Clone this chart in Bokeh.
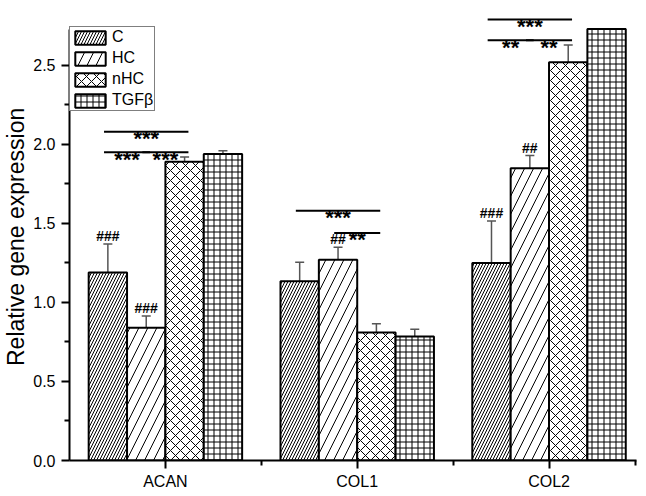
from bokeh.plotting import figure
from bokeh.models import (ColumnDataSource, Whisker, TeeHead, FixedTicker, Legend,
                          LegendItem, Range1d)
from bokeh.core.properties import value
from bokeh.embed import file_html
from bokeh.resources import INLINE

# ---------------- data ----------------
genes = ["ACAN", "COL1", "COL2"]
groups = ["C", "HC", "nHC", "TGFβ"]
mean_C = [1.19, 1.135, 1.25]
mean_HC = [0.84, 1.27, 1.85]
mean_nHC = [1.89, 0.81, 2.52]
mean_TGF = [1.94, 0.785, 2.73]
err_C = [0.18, 0.12, 0.265]
err_HC = [0.075, 0.08, 0.08]
err_nHC = [0.03, 0.055, 0.11]
err_TGF = [0.02, 0.045, 0.0]

# "#" marks (vs TGFβ)
hash_gene = ["ACAN", "ACAN", "COL1", "COL2", "COL2"]
hash_group = ["C", "HC", "HC", "C", "HC"]
hash_text = ["###", "###", "##", "###", "##"]

# significance brackets
br_gene = ["ACAN", "ACAN", "ACAN", "COL1", "COL1", "COL2", "COL2", "COL2"]
br_from = ["C", "C", "HC", "C", "HC", "C", "C", "HC"]
br_to = ["nHC", "HC", "nHC", "nHC", "nHC", "nHC", "HC", "nHC"]
br_level = [2.08, 1.95, 1.95, 1.58, 1.44, 2.79, 2.66, 2.66]
br_text = ["***", "***", "***", "***", "**", "***", "**", "**"]

yticks = [0.0, 0.5, 1.0, 1.5, 2.0, 2.5]

# ---------------- layout helpers ----------------
means = [mean_C, mean_HC, mean_nHC, mean_TGF]
errs = [err_C, err_HC, err_nHC, err_TGF]
offsets = [-0.3, -0.1, 0.1, 0.3]
bar_w = 0.2
hatches = [("/", 6), ("/", 18), ("x", 10), ("+", 6)]
FONT = "Liberation Sans"

def xpos(g, grp):
    return genes.index(g) + offsets[groups.index(grp)]

def top(g, grp):
    i = groups.index(grp)
    j = genes.index(g)
    return means[i][j] + errs[i][j]

p = figure(width=640, height=492, output_backend="svg", toolbar_location=None,
           x_range=Range1d(-0.5, 2.456), y_range=Range1d(0, 2.911),
           min_border_left=67, min_border_right=4, min_border_top=0,
           min_border_bottom=32)
p.outline_line_color = None
p.xgrid.visible = False
p.ygrid.visible = False
p.background_fill_color = "white"

renderers = []
for i, grp in enumerate(groups):
    src = ColumnDataSource(dict(x=[k + offsets[i] for k in range(len(genes))],
                                top=means[i]))
    pat, sc = hatches[i]
    r = p.vbar(x="x", top="top", width=bar_w, source=src, fill_color="white",
               line_color="black", line_width=2, hatch_pattern=pat,
               hatch_scale=sc, hatch_weight=1, hatch_color="black")
    renderers.append(r)
    ex, up, lo = [], [], []
    for k in range(len(genes)):
        if errs[i][k] > 0:
            ex.append(k + offsets[i])
            up.append(means[i][k] + errs[i][k])
            lo.append(means[i][k] - errs[i][k])
    esrc = ColumnDataSource(dict(x=ex, upper=up, lower=lo))
    w = Whisker(base="x", upper="upper", lower="lower", source=esrc,
                line_color="#555555", line_width=1.5,
                upper_head=TeeHead(size=9, line_color="#555555", line_width=1.5),
                lower_head=TeeHead(size=9, line_color="#555555", line_width=1.5))
    p.add_layout(w)

# hash marks
hsrc = ColumnDataSource(dict(x=[xpos(g, grp) for g, grp in zip(hash_gene, hash_group)],
                             y=[top(g, grp) for g, grp in zip(hash_gene, hash_group)],
                             t=hash_text))
p.text(x="x", y="y", text="t", source=hsrc, text_font=value(FONT),
       text_font_style="bold", text_font_size="14px", text_align="center",
       text_baseline="bottom", y_offset=0, text_color="black")

# brackets
bx0 = [xpos(g, a) - 0.02 for g, a in zip(br_gene, br_from)]
bx1 = [xpos(g, b) + 0.02 for g, b in zip(br_gene, br_to)]
bsrc = ColumnDataSource(dict(x0=bx0, x1=bx1, y=br_level,
                             xm=[(a + b) / 2 for a, b in zip(bx0, bx1)], t=br_text))
p.segment(x0="x0", y0="y", x1="x1", y1="y", source=bsrc, line_color="black",
          line_width=2)
p.text(x="xm", y="y", text="t", source=bsrc, text_font=value(FONT),
       text_font_style="bold", text_font_size="22px", text_align="center",
       text_baseline="alphabetic", y_offset=7, text_color="black")

# axes
ya = p.yaxis[0]
ya.ticker = FixedTicker(ticks=yticks,
                        minor_ticks=[0.25, 0.75, 1.25, 1.75, 2.25])
ya.major_label_overrides = {t: f"{t:.1f}" for t in yticks}
ya.bounds = (0, 2.73)
ya.axis_label = "Relative  gene  expression"
ya.axis_label_text_font = FONT
ya.axis_label_text_font_style = "normal"
ya.axis_label_text_font_size = "23px"
ya.axis_label_text_color = "black"
ya.axis_label_standoff = 1
ya.major_label_text_font = FONT
ya.major_label_text_font_size = "16px"
ya.major_label_standoff = 6
for a in (p.xaxis[0], ya):
    a.axis_line_width = 2
    a.major_tick_line_width = 2
    a.minor_tick_line_width = 2
    a.major_tick_in = 0
    a.minor_tick_in = 0
    a.major_tick_out = 8
    a.minor_tick_out = 5
    a.axis_line_color = "black"
    a.major_tick_line_color = "black"
    a.minor_tick_line_color = "black"
    a.major_label_text_color = "black"

xa = p.xaxis[0]
xa.ticker = FixedTicker(ticks=[0, 1, 2], minor_ticks=[0.5, 1.5, 2.45])
xa.major_label_overrides = {i: g for i, g in enumerate(genes)}
xa.major_label_text_font = FONT
xa.major_label_text_font_size = "16px"
xa.major_label_standoff = 4
xa.axis_label_standoff = 0

legend = Legend(items=[LegendItem(label=g, renderers=[r]) for g, r in zip(groups, renderers)],
                location=(0, 349), glyph_width=38, glyph_height=17,
                label_height=17, spacing=3, padding=1, margin=0,
                label_standoff=3, label_text_font=FONT,
                label_text_font_size="16px", label_text_color="black",
                border_line_color="black",
                border_line_width=1.5, background_fill_alpha=1)
p.add_layout(legend)

open("out.html", "w").write(file_html(p, INLINE))
